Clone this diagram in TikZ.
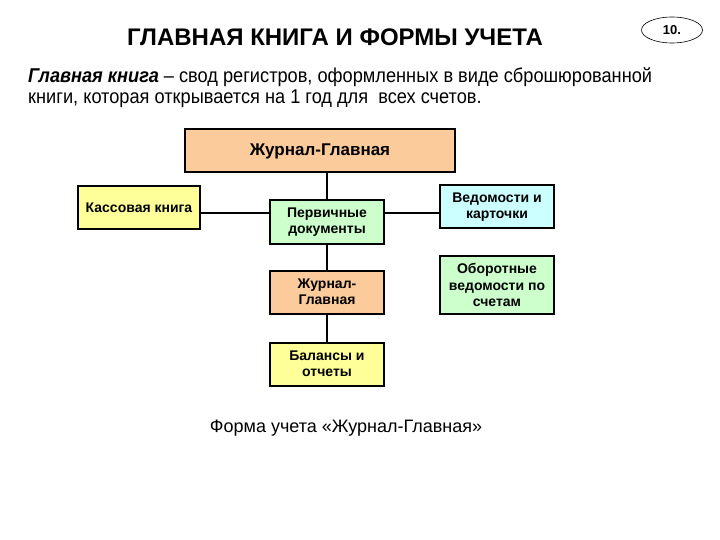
\documentclass[tikz,border=0pt]{standalone}
\usepackage{fontspec}
\setmainfont{Liberation Sans}
\newfontfamily\narrowfont[FakeStretch=0.91]{Liberation Sans}
\usetikzlibrary{shapes.geometric}
\definecolor{peach}{HTML}{FBCB9B}
\definecolor{lyellow}{HTML}{FFFF99}
\definecolor{lgreen}{HTML}{CCFFCC}
\definecolor{lcyan}{HTML}{CCFFFF}
\tikzset{
  box/.style={draw=black, line width=2pt, align=center, inner sep=2pt,
    font=\fontsize{14}{16.5}\selectfont\bfseries, minimum width=114pt, minimum height=43pt},
  link/.style={draw=black, line width=2pt}
}
\begin{document}
\begin{tikzpicture}[x=1pt,y=-1pt]
\useasboundingbox (0,0) rectangle (720,540);
\fill[white] (0,0) rectangle (720,540);

\node[font=\fontsize{24}{28}\selectfont\bfseries] (title) at (335,37) {ГЛАВНАЯ КНИГА И ФОРМЫ УЧЕТА};
\node[draw=black, line width=0.6pt, ellipse, minimum width=61pt, minimum height=26pt, inner sep=0pt,
  font=\fontsize{13}{15}\selectfont\bfseries] (num) at (672,30) {10.};

\node[anchor=base west, inner sep=0pt, font=\narrowfont\fontsize{20}{21}\selectfont] (p1) at (28,83)
  {\textbf{\textit{Главная книга}} – свод регистров, оформленных в виде сброшюрованной};
\node[anchor=base west, inner sep=0pt, font=\narrowfont\fontsize{20}{21}\selectfont] (p2) at (28,104)
  {книги, которая открывается на 1 год для\ \ всех счетов.};

\node[box, fill=peach, minimum width=270pt, font=\fontsize{17}{20}\selectfont\bfseries] (top) at (320,151) {Журнал-Главная};
\node[box, fill=lyellow, minimum width=122pt] (kass) at (139,207.5) {Кассовая книга};
\node[box, fill=lgreen] (perv) at (327,222) {Первичные\\документы};
\node[box, fill=lcyan] (ved) at (497,207) {Ведомости и\\карточки};
\node[box, fill=lgreen, minimum height=58pt] (obor) at (497,285) {Оборотные\\ведомости по\\счетам};
\node[box, fill=peach] (zh) at (327,292) {Журнал-\\Главная};
\node[box, fill=lyellow] (bal) at (327,364) {Балансы и\\отчеты};

\coordinate (h) at (0,213);
\draw[link] (perv.north |- top.south) -- (perv.north);
\draw[link] (kass.east |- h) -- (perv.west |- h);
\draw[link] (perv.east |- h) -- (ved.west |- h);
\draw[link] (perv.south) -- (zh.north);
\draw[link] (zh.south) -- (bal.north);

\node[font=\fontsize{18}{21}\selectfont] (cap) at (346,428) {Форма учета «Журнал-Главная»};
\end{tikzpicture}
\end{document}
